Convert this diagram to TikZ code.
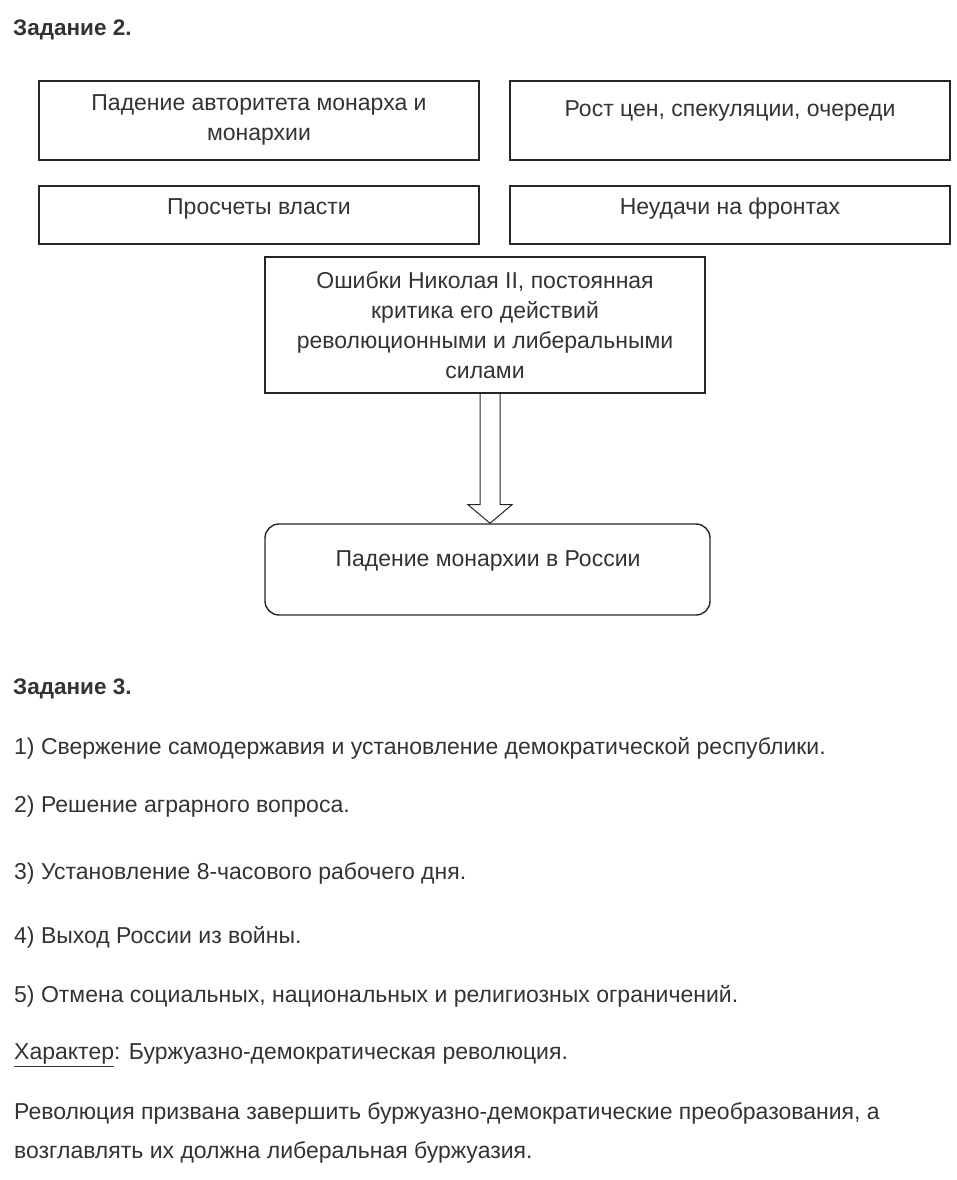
\documentclass[tikz,border=0pt]{standalone}
\usepackage{fontspec}
\setmainfont{Liberation Sans}
\usepackage{xcolor}
\usetikzlibrary{calc,positioning}

\definecolor{ink}{HTML}{333333}

\begin{document}
\begin{tikzpicture}[x=1pt, y=-1pt,
		box/.style={draw=black!85, line width=1.4pt, inner sep=0pt},
		boxtext/.style={align=center, text=ink, yshift=-2pt, font=\fontsize{23}{30}\selectfont},
		line/.style={anchor=west, text=ink, inner sep=0pt, yshift=-2pt, font=\fontsize{23}{27}\selectfont},
		heading/.style={line, font=\fontsize{22.5}{27}\selectfont\bfseries}]
		\useasboundingbox (0,0) rectangle (957,1180);
		
		% Задание 2
		\node[heading] (h2) at (13,28) {Задание 2.};
		
		\node[box, minimum width=440pt, minimum height=79pt] (b1) at (259,120.5) {};
		\node[box, minimum width=440pt, minimum height=79pt] (b2) at (730,120.5) {};
		\node[box, minimum width=440pt, minimum height=58pt] (b3) at (259,215) {};
		\node[box, minimum width=440pt, minimum height=58pt] (b4) at (730,215) {};
		\node[box, minimum width=440pt, minimum height=136pt] (b5) at (485,325) {};
		\node[box, rounded corners=14pt, minimum width=445pt, minimum height=91pt] (b6) at (487.5,569.5) {};
		
		\node[boxtext] (t1) at (259,117.5) {Падение авторитета монарха и\\монархии};
		\node[boxtext] (t2) at (730,109) {Рост цен, спекуляции, очереди};
		\node[boxtext] (t3) at (259,207) {Просчеты власти};
		\node[boxtext] (t4) at (730,207) {Неудачи на фронтах};
		\node[boxtext] (t5) at (485,323) {Ошибки Николая II, постоянная\\критика его действий\\революционными и либеральными\\силами};
		\node[boxtext] (t6) at (488,559) {Падение монархии в России};
		
		% полая стрелка
		\coordinate (tip) at ($(b6.north)+(2.5,0)$);
		\draw[line width=1pt, black!85] ($(b5.south)+(-5,0)$) -- ($(b5.south)+(-5,111)$)
			-- ($(b5.south)+(-17,111)$) -- (tip) -- ($(b5.south)+(27,111)$)
			-- ($(b5.south)+(15,111)$) -- ($(b5.south)+(15,0)$);
		
		% Задание 3
		\node[heading] (h3) at (13,687) {Задание 3.};
		\node[line] (l1) at (14,746) {1) Свержение самодержавия и установление демократической республики.};
		\node[line] (l2) at (14,805) {2) Решение аграрного вопроса.};
		\node[line] (l3) at (14,871) {3) Установление 8-часового рабочего дня.};
		\node[line] (l4) at (14,935) {4) Выход России из войны.};
		\node[line] (l5) at (14,994) {5) Отмена социальных, национальных и религиозных ограничений.};
		\node[line] (l6) at (14,1053) {\underline{Характер}: Буржуазно-демократическая революция.};
		\node[line] (l7) at (14,1111) {Революция призвана завершить буржуазно-демократические преобразования, а};
		\node[line] (l8) at (14,1150) {возглавлять их должна либеральная буржуазия.};
	\end{tikzpicture}
\end{document}
